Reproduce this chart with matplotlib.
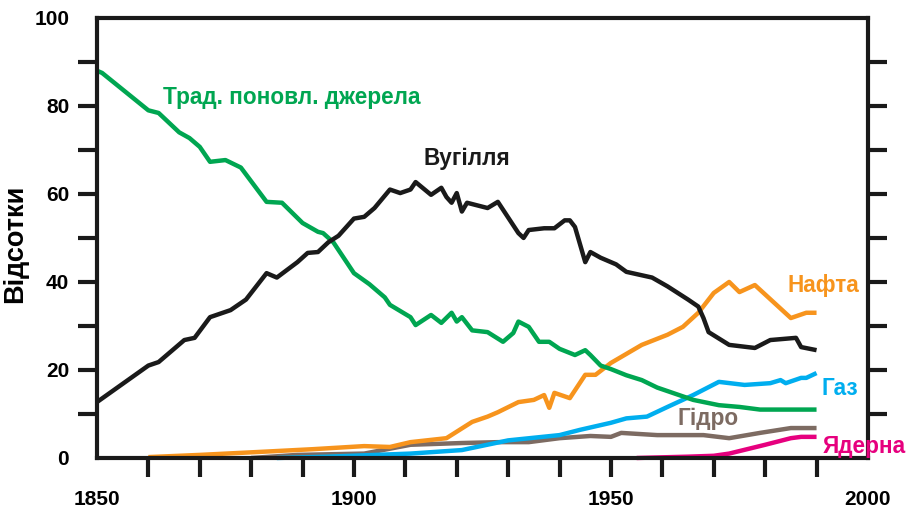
import numpy as np
import matplotlib
matplotlib.use("Agg")
import matplotlib.pyplot as plt

plt.rcParams["font.family"] = ["Liberation Sans", "DejaVu Sans"]
plt.rcParams["font.weight"] = "bold"

# shares of world primary energy, per cent
trad_years = [1850, 1851, 1860, 1862, 1866, 1868, 1870, 1872, 1875, 1878, 1883, 1886,
              1890, 1893, 1894, 1896, 1898, 1900, 1903, 1906, 1907, 1911, 1912, 1915,
              1917, 1919, 1920, 1921, 1923, 1926, 1929, 1931, 1932, 1934, 1936, 1938,
              1940, 1943, 1945, 1946, 1948, 1950, 1953, 1956, 1959, 1966, 1971, 1975,
              1979, 1985, 1990]
trad_vals = [88, 87.5, 79, 78.4, 74, 72.7, 70.7, 67.3, 67.7, 66, 58.2, 58,
             53.4, 51.4, 51.1, 49, 45.5, 42, 39.5, 36.5, 34.8, 32, 30.2, 32.5,
             30.7, 33, 31, 32, 29, 28.6, 26.4, 28.4, 31, 29.8, 26.4, 26.4,
             24.8, 23.4, 24.5, 23.4, 21, 20.2, 18.8, 17.7, 16, 13.2, 12, 11.6,
             11, 11, 11]

coal_years = [1850, 1860, 1862, 1867, 1869, 1872, 1876, 1879, 1883, 1885, 1889, 1891,
              1893, 1895, 1897, 1900, 1902, 1904, 1905, 1907, 1909, 1911, 1912, 1915,
              1917, 1918, 1919, 1920, 1921, 1922, 1926, 1928, 1932, 1933, 1934, 1937,
              1939, 1941, 1942, 1943, 1945, 1946, 1948, 1951, 1953, 1958, 1961, 1965,
              1967, 1968, 1969, 1973, 1978, 1981, 1986, 1987, 1990]
coal_vals = [12.7, 21, 21.8, 26.8, 27.3, 32, 33.6, 36, 42, 41, 44.5, 46.6,
             46.8, 49, 50.5, 54.4, 54.8, 56.8, 58.2, 61, 60.2, 61, 62.7, 59.8,
             61.4, 59.3, 58, 60.2, 56, 58, 56.8, 58.2, 51.1, 50, 51.8, 52.2,
             52.2, 54, 54, 52.5, 44.5, 46.8, 45.5, 44, 42.3, 41, 39, 36,
             34.4, 31.8, 28.6, 25.7, 25, 26.8, 27.3, 25.2, 24.5]

oil_years = [1860, 1870, 1882, 1892, 1902, 1907, 1911, 1918, 1923, 1926, 1928, 1932,
             1935, 1937, 1938, 1939, 1942, 1945, 1947, 1950, 1956, 1961, 1964, 1967,
             1970, 1973, 1975, 1978, 1985, 1988, 1990]
oil_vals = [0.2, 0.7, 1.4, 2, 2.7, 2.5, 3.6, 4.5, 8.2, 9.4, 10.4, 12.7,
            13.2, 14.3, 11.4, 14.8, 13.6, 18.9, 18.9, 21.6, 25.7, 28, 29.8, 33,
            37.5, 40, 37.7, 39.3, 31.8, 33, 33]

gas_years = [1885, 1895, 1911, 1921, 1930, 1940, 1944, 1950, 1953, 1957, 1961, 1966,
             1971, 1976, 1981, 1983, 1984, 1987, 1988, 1990]
gas_vals = [0, 0.3, 1, 1.8, 4, 5.2, 6.4, 8, 9, 9.4, 11.6, 14.3,
            17.3, 16.6, 17, 17.7, 17, 18.2, 18.2, 19.3]

hydro_years = [1880, 1889, 1902, 1911, 1921, 1928, 1934, 1940, 1946, 1950, 1952, 1959,
               1968, 1973, 1979, 1985, 1990]
hydro_vals = [0, 0.7, 1, 3, 3.4, 3.6, 3.6, 4.5, 5, 4.8, 5.7, 5.2,
              5.2, 4.5, 5.7, 6.8, 6.8]

nuc_years = [1955, 1965, 1970, 1973, 1980, 1985, 1987, 1990]
nuc_vals = [0, 0.3, 0.5, 1, 3, 4.5, 4.8, 4.8]

series = [
    (hydro_years, hydro_vals, "#7d6b62", "Гідро", (1963, 9)),
    (gas_years, gas_vals, "#00aeef", "Газ", (1991, 15.8)),
    (nuc_years, nuc_vals, "#e6007e", "Ядерна", (1991.2, 2.6)),
    (oil_years, oil_vals, "#f7941d", "Нафта", (1984.3, 39.3)),
    (trad_years, trad_vals, "#00a651", "Трад. поновл. джерела", (1862.8, 82)),
    (coal_years, coal_vals, "#1a1a1a", "Вугілля", (1913.5, 68)),
]

fig = plt.figure(figsize=(9.06, 5.12), dpi=100)
ax = fig.add_axes([0.107, 0.1055, 0.851, 0.8595])

for years, vals, color, name, (tx, ty) in series:
    ax.plot(years, vals, color=color, linewidth=3.2, solid_joinstyle="round",
            solid_capstyle="butt", clip_on=False)
    ax.text(tx, ty, name, color=color, fontsize=16.3, fontweight="bold",
            ha="left", va="center", clip_on=False)

ax.set_xlim(1850, 2000)
ax.set_ylim(0, 100)

# every decade gets a tick, only some of them a label
ax.set_xticks(np.arange(1850, 2001, 10))
ax.set_xticklabels([str(y) if y % 50 == 0 else "" for y in range(1850, 2001, 10)])
ax.set_yticks(np.arange(0, 101, 10))
ax.set_yticklabels([str(v) if v % 20 == 0 else "" for v in range(0, 101, 10)])

ax.tick_params(axis="both", direction="out", length=14, width=3, color="#1a1a1a",
               labelsize=15, pad=6)
ax.tick_params(axis="y", right=True)
ax.tick_params(axis="x", pad=9)

# no tick marks where the frame corners are
for tick in [ax.xaxis.get_major_ticks()[0], ax.xaxis.get_major_ticks()[-1]]:
    tick.tick1line.set_visible(False)
for tick in [ax.yaxis.get_major_ticks()[0], ax.yaxis.get_major_ticks()[-1]]:
    tick.tick1line.set_visible(False)
    tick.tick2line.set_visible(False)

for side in ["bottom", "left", "top", "right"]:
    ax.spines[side].set_linewidth(3)
    ax.spines[side].set_color("#1a1a1a")

ax.set_ylabel("Відсотки", fontsize=19.5, fontweight="bold")
ax.yaxis.set_label_coords(-0.089, 0.486)

fig.savefig("out.png", dpi=100)
